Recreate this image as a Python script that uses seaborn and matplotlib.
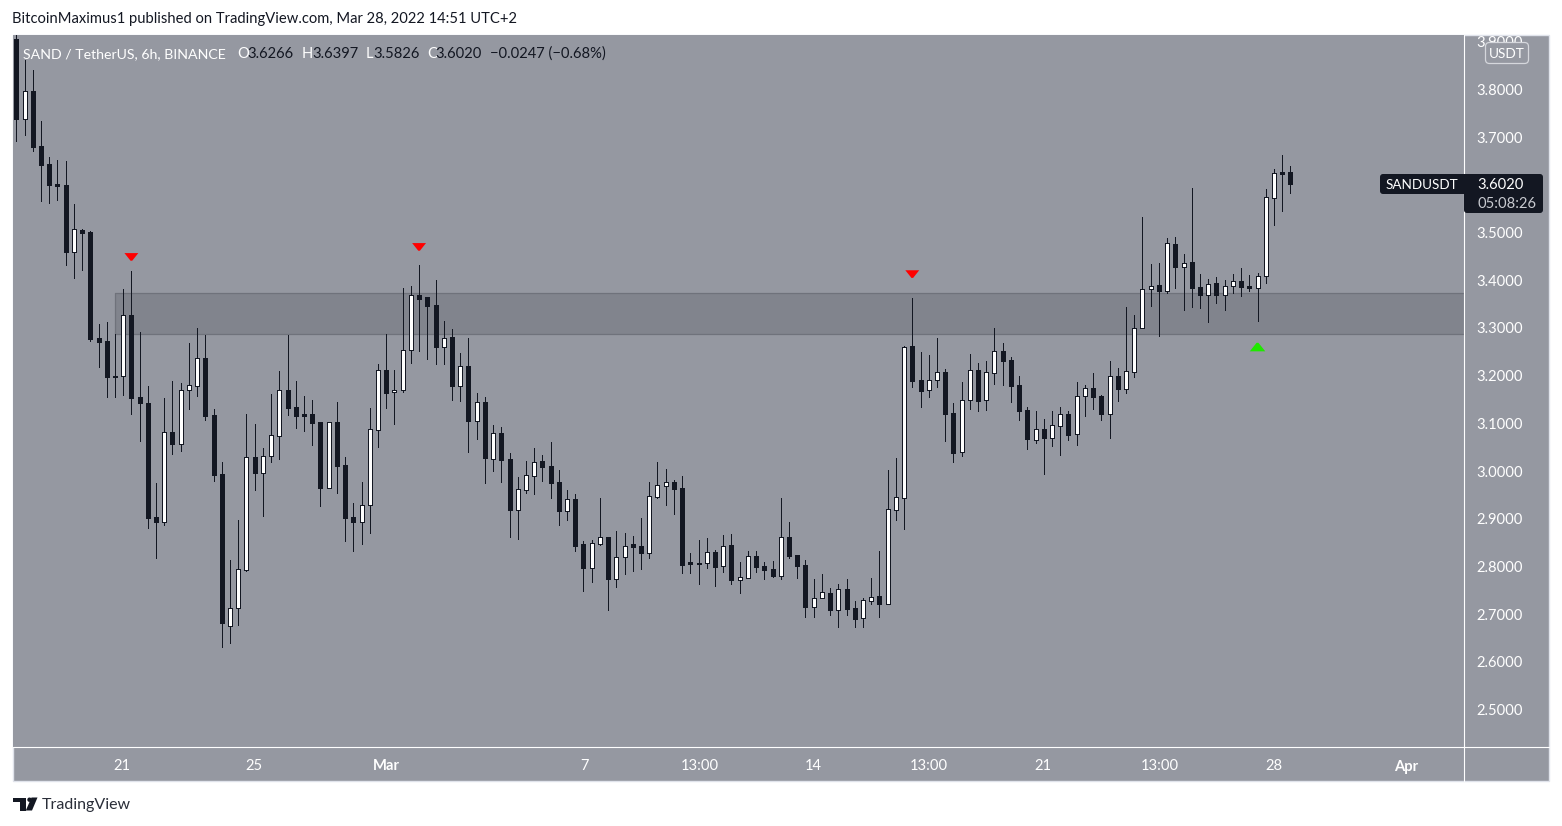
import numpy as np
import pandas as pd
import matplotlib
matplotlib.use("Agg")
import matplotlib.pyplot as plt
from matplotlib.lines import Line2D
from matplotlib.markers import MarkerStyle
from matplotlib.patches import Rectangle, FancyBboxPatch, Polygon, Circle
from matplotlib.transforms import Affine2D
import seaborn as sns

opens = [3.906,3.739,3.797,3.681,3.644,3.602,3.600,3.460,3.505,3.501,
3.279,3.273,3.199,3.199,3.327,3.155,3.143,2.904,2.894,3.082,
3.057,3.171,3.179,3.237,3.118,2.994,2.676,2.713,2.793,3.030,
2.995,3.032,3.074,3.170,3.134,3.119,3.120,3.103,2.965,3.103,
3.013,2.904,2.894,2.929,3.087,3.212,3.166,3.171,3.254,3.369,
3.365,3.348,3.261,3.281,3.179,3.220,3.104,3.145,3.026,3.080,
3.025,2.919,2.961,2.990,3.021,3.011,2.977,2.917,2.941,2.847,
2.797,2.848,2.862,2.774,2.819,2.847,2.843,2.829,2.946,2.969,
2.977,2.965,2.809,2.807,2.808,2.830,2.800,2.845,2.772,2.776,
2.822,2.801,2.795,2.781,2.862,2.824,2.803,2.716,2.735,2.744,
2.709,2.753,2.713,2.691,2.728,2.738,2.722,2.919,2.944,3.262,
3.191,3.171,3.192,3.208,3.122,3.039,3.148,3.212,3.148,3.206,
3.252,3.233,3.180,3.128,3.066,3.088,3.070,3.095,3.120,3.077,
3.157,3.174,3.157,3.120,3.199,3.173,3.208,3.301,3.381,3.390,
3.378,3.476,3.428,3.438,3.386,3.370,3.394,3.370,3.387,3.398,
3.388,3.384,3.408,3.573,3.626,3.6266]
closes = [3.739,3.796,3.680,3.642,3.600,3.598,3.460,3.507,3.500,3.277,
3.271,3.198,3.197,3.327,3.154,3.143,2.902,2.894,3.082,3.057,
3.170,3.180,3.237,3.116,2.992,2.682,2.713,2.795,3.030,2.995,
3.032,3.076,3.170,3.133,3.116,3.116,3.101,2.965,3.103,3.011,
2.902,2.894,2.929,3.088,3.212,3.164,3.171,3.254,3.369,3.361,
3.347,3.261,3.279,3.179,3.220,3.104,3.145,3.028,3.080,3.024,
2.919,2.962,2.992,3.019,3.009,2.976,2.917,2.941,2.844,2.797,
2.849,2.862,2.774,2.819,2.844,2.841,2.828,2.947,2.970,2.977,
2.962,2.803,2.805,2.806,2.830,2.799,2.844,2.772,2.777,2.821,
2.799,2.793,2.780,2.861,2.822,2.801,2.715,2.735,2.746,2.709,
2.752,2.711,2.690,2.729,2.737,2.721,2.920,2.945,3.260,3.189,
3.168,3.192,3.207,3.120,3.038,3.148,3.211,3.147,3.207,3.251,
3.231,3.178,3.126,3.067,3.088,3.069,3.096,3.119,3.076,3.157,
3.174,3.155,3.120,3.199,3.172,3.209,3.301,3.381,3.389,3.378,
3.478,3.428,3.437,3.384,3.369,3.393,3.369,3.387,3.398,3.386,
3.384,3.408,3.574,3.624,3.622,3.602]
highs = [3.916,3.862,3.841,3.734,3.658,3.652,3.650,3.560,3.508,3.503,
3.308,3.313,3.287,3.382,3.419,3.292,3.178,2.975,3.153,3.189,
3.185,3.269,3.300,3.285,3.130,3.019,2.814,2.898,3.120,3.099,
3.048,3.162,3.210,3.285,3.189,3.157,3.149,3.103,3.103,3.145,
3.030,2.933,2.977,3.132,3.224,3.287,3.212,3.384,3.388,3.432,
3.365,3.401,3.315,3.298,3.248,3.279,3.164,3.155,3.097,3.092,
3.038,2.988,3.021,3.048,3.034,3.061,3.002,2.960,2.952,2.853,
2.855,2.944,2.862,2.874,2.870,2.864,2.902,2.977,3.019,3.004,
2.981,2.990,2.828,2.855,2.860,2.835,2.866,2.868,2.809,2.832,
2.832,2.809,2.811,2.944,2.893,2.824,2.814,2.774,2.784,2.755,
2.763,2.774,2.728,2.734,2.776,2.832,3.002,3.027,3.262,3.363,
3.250,3.243,3.279,3.214,3.143,3.187,3.245,3.227,3.231,3.300,
3.269,3.239,3.199,3.134,3.126,3.109,3.126,3.134,3.126,3.187,
3.180,3.206,3.159,3.231,3.216,3.344,3.327,3.533,3.434,3.436,
3.489,3.491,3.455,3.593,3.413,3.403,3.407,3.401,3.413,3.426,
3.411,3.415,3.591,3.633,3.663,3.640]
lows = [3.693,3.705,3.672,3.567,3.563,3.568,3.432,3.405,3.422,3.273,
3.219,3.156,3.156,3.160,3.120,3.064,2.881,2.818,2.888,3.036,
3.043,3.131,3.157,3.108,2.979,2.632,2.640,2.678,2.791,2.961,
2.906,3.020,3.026,3.118,3.091,3.085,3.055,2.927,2.965,2.955,
2.854,2.833,2.848,2.871,3.051,3.132,3.099,3.166,3.227,3.252,
3.236,3.225,3.225,3.148,3.146,3.041,3.068,2.976,3.001,2.978,
2.862,2.858,2.955,2.953,2.980,2.944,2.886,2.898,2.833,2.749,
2.768,2.845,2.709,2.758,2.784,2.791,2.795,2.818,2.944,2.929,
2.910,2.786,2.786,2.763,2.797,2.759,2.788,2.763,2.744,2.776,
2.788,2.774,2.778,2.774,2.818,2.776,2.694,2.694,2.734,2.698,
2.673,2.698,2.673,2.673,2.721,2.694,2.721,2.897,2.879,3.176,
3.135,3.155,3.176,3.063,3.019,3.032,3.130,3.126,3.128,3.183,
3.180,3.145,3.107,3.046,3.059,2.994,3.053,3.034,3.065,3.055,
3.115,3.130,3.107,3.069,3.147,3.164,3.197,3.300,3.347,3.284,
3.374,3.384,3.338,3.344,3.342,3.313,3.352,3.338,3.373,3.367,
3.378,3.315,3.394,3.516,3.545,3.5826]

price_ticks = [2.5, 2.6, 2.7, 2.8, 2.9, 3.0, 3.1, 3.2, 3.3, 3.4, 3.5, 3.6, 3.7, 3.8, 3.9]
date_pos = [12.9, 28.9, 45.0, 69.1, 83.1, 97.0, 111.0, 124.9, 139.1, 153.0, 169.1]
date_labels = ["21", "25", "Mar", "7", "13:00", "14", "13:00", "21", "13:00", "28", "Apr"]
zone_low, zone_high = 3.2874, 3.3734
zone_start = 12.0
sell_idx = [14, 49, 109]
sell_price = [3.449, 3.470, 3.413]
buy_idx = [151]
buy_price = [3.260]

BG = "#9598a1"
INK = "#131722"
EDGE = "#e0e3eb"
W, H = 1562, 826
FONT = "Lato"
FS = 10.6

sns.set_theme(style="white", rc={"font.family": FONT})
plt.rcParams["font.family"] = [FONT, "DejaVu Sans"]

fig = plt.figure(figsize=(W / 100, H / 100), dpi=100, facecolor="white")
px = Affine2D().scale(1 / W, -1 / H).translate(0, 1) + fig.transFigure
ax = fig.add_axes([13 / W, 1 - 747 / H, (1464 - 13) / W, (747 - 35) / H])
ax.set_facecolor(BG)

fig.add_artist(Rectangle((13, 35), 1536, 746, transform=px, facecolor=BG,
                         edgecolor=EDGE, lw=1.0, zorder=-5))

n = len(opens)
idx = np.arange(n)
o, c, hi, lo = map(np.array, (opens, closes, highs, lows))

wicks = pd.DataFrame({
    "i": np.concatenate([idx, idx]),
    "price": np.concatenate([lo, hi]),
})
sns.lineplot(data=wicks, x="i", y="price", units="i", estimator=None, sort=False,
             color=INK, lw=0.72, ax=ax, legend=False, zorder=3,
             solid_capstyle="butt", antialiased=False)

up = c >= o
bw = 4.0 / 8.22
ax.bar(idx[~up], (o - c)[~up], bottom=c[~up], width=bw, color=INK,
       edgecolor=INK, lw=0.72, zorder=4, antialiased=False)
ax.bar(idx[up], (c - o)[up], bottom=o[up], width=bw, color="white",
       edgecolor=INK, lw=0.72, zorder=4, antialiased=False)

ax.fill_between([zone_start, 200], zone_low, zone_high, facecolor="#81848d",
                edgecolor="#6f727b", lw=0.9, zorder=1)

tri_down = MarkerStyle([(-1, 0.55), (1, 0.55), (0.12, -0.55), (-0.12, -0.55)])
tri_up = MarkerStyle([(-1, -0.55), (1, -0.55), (0.12, 0.55), (-0.12, 0.55)])
sns.scatterplot(x=sell_idx, y=sell_price, marker=tri_down, color="#ff0000", s=100,
                linewidth=0, edgecolor="none", ax=ax, zorder=5, legend=False)
sns.scatterplot(x=buy_idx, y=buy_price, marker=tri_up, color="#1fe800", s=125,
                linewidth=0, edgecolor="none", ax=ax, zorder=5, legend=False)

ax.set_xlim((13 - 16.3) / 8.22, (1464 - 16.3) / 8.22)
ax.set_ylim(3.9876 - 0.0020964 * 747, 3.9876 - 0.0020964 * 35)
ax.set_xlabel("")
ax.set_ylabel("")
for s in ax.spines.values():
    s.set_visible(False)
ax.yaxis.tick_right()
ax.set_yticks(price_ticks)
ax.set_yticklabels([f"{v:.4f}" for v in price_ticks])
ax.set_xticks(date_pos)
ax.set_xticklabels(date_labels)
ax.tick_params(axis="y", length=0, pad=9.0, labelsize=FS, colors="white")
ax.tick_params(axis="x", length=0, pad=9.0, labelsize=FS, colors="white")
for lab in ax.get_xticklabels():
    if lab.get_text() in ("Mar", "Apr"):
        lab.set_fontweight("bold")

fig.add_artist(Line2D([1464, 1464], [35, 781], transform=px, color="white", lw=0.8, zorder=2))
fig.add_artist(Line2D([13, 1549], [747, 747], transform=px, color="white", lw=0.8, zorder=2))

def t(x, y, s, color="white", size=FS, ha="left", **kw):
    fig.text(x, y, s, transform=px, color=color, fontsize=size, ha=ha, va="center", zorder=8, **kw)

t(12.5, 19.5, "BitcoinMaximus1 published on TradingView.com, Mar 28, 2022 14:51 UTC+2", color="#131722")
t(23, 54, "SAND / TetherUS, 6h, BINANCE", size=10.15)
for x, s in [(237, "O"), (302, "H"), (366, "L"), (427, "C")]:
    t(x, 54, s)
for x, s in [(247.5, "3.6266"), (312, "3.6397"), (373, "3.5826"), (435, "3.6020"),
             (490, "\u22120.0247 (\u22120.68%)")]:
    t(x, 54, s, color=INK)

fig.add_artist(FancyBboxPatch((1380, 174), 90, 20, boxstyle="round,pad=0,rounding_size=3",
                              transform=px, facecolor=INK, edgecolor="none", zorder=6))
fig.add_artist(FancyBboxPatch((1464, 174), 79, 39, boxstyle="round,pad=0,rounding_size=3",
                              transform=px, facecolor=INK, edgecolor="none", zorder=6))
t(1386, 185, "SANDUSDT", size=9.7)
t(1477, 185, "3.6020")
t(1477, 203.5, "05:08:26", color="#c8cad0")

fig.add_artist(FancyBboxPatch((1485.5, 42.5), 43, 21, boxstyle="round,pad=0,rounding_size=4",
                              transform=px, facecolor=BG, edgecolor="#d5d7dc", lw=0.9, zorder=6))
t(1507, 54, "USDT", ha="center", size=9.8)

fig.add_artist(Polygon([(13, 797.5), (25.5, 797.5), (25.5, 810.5), (19.5, 810.5), (19.5, 802), (13, 802)],
                       closed=True, transform=px, facecolor=INK, edgecolor="none", zorder=6))
fig.add_artist(Circle((29.5, 799.7), 2.2, transform=px, facecolor=INK, edgecolor="none", zorder=6))
fig.add_artist(Polygon([(31.5, 797.5), (37.5, 797.5), (32, 810.5), (25.8, 810.5)],
                       closed=True, transform=px, facecolor=INK, edgecolor="none", zorder=6))
t(42, 804.5, "TradingView", color="#2a2e39", size=11.5)

fig.savefig("out.png", dpi=100, facecolor="white")
